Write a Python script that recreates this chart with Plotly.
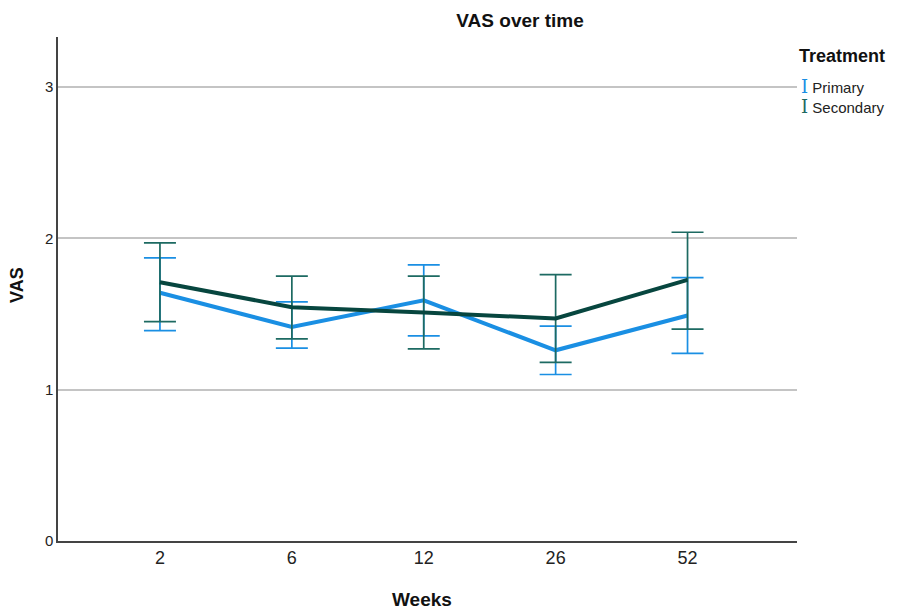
import plotly.graph_objects as go

weeks = ["2", "6", "12", "26", "52"]
primary_mean = [1.64, 1.415, 1.59, 1.26, 1.49]
primary_upper = [1.87, 1.58, 1.824, 1.42, 1.74]
primary_lower = [1.39, 1.275, 1.355, 1.10, 1.24]
secondary_mean = [1.71, 1.545, 1.51, 1.47, 1.725]
secondary_upper = [1.97, 1.75, 1.75, 1.76, 2.04]
secondary_lower = [1.45, 1.335, 1.27, 1.18, 1.40]

yticks = [0, 1, 2, 3]

c_pri = "#1a8fe3"
c_sec_line = "#07463f"
c_sec_err = "#1d6a62"

def err(mean, up, lo):
    return dict(type="data", symmetric=False,
                array=[u - m for u, m in zip(up, mean)],
                arrayminus=[m - l for m, l in zip(mean, lo)])

fig = go.Figure()
fig.add_trace(go.Scatter(
    x=list(range(len(weeks))), y=primary_mean, mode="lines", name="Primary",
    line=dict(color=c_pri, width=4),
    error_y=dict(**err(primary_mean, primary_upper, primary_lower), color=c_pri, thickness=1.7, width=16),
))
fig.add_trace(go.Scatter(
    x=list(range(len(weeks))), y=secondary_mean, mode="lines", name="Secondary",
    line=dict(color=c_sec_line, width=4),
    error_y=dict(**err(secondary_mean, secondary_upper, secondary_lower), color=c_sec_err, thickness=1.7, width=16),
))

fig.update_layout(
    width=889, height=601,
    margin=dict(l=50, r=100, t=29, b=68, autoexpand=False),
    plot_bgcolor="white", paper_bgcolor="white",
    showlegend=False,
    font=dict(family="Liberation Sans, Arial", color="#222"),
    title=dict(text="<b>VAS over time</b>", x=0.576, xanchor="center", y=0.98, yanchor="middle",
               font=dict(size=19, color="#111")),
)
fig.update_xaxes(
    tickmode="array", tickvals=list(range(len(weeks))), ticktext=weeks,
    range=[-0.773, 4.83], showgrid=False, zeroline=False, automargin=False,
    showline=True, linecolor="#444", linewidth=1.5,
    ticks="", tickfont=dict(size=18, color="#222"),
)
fig.update_yaxes(
    tickmode="array", tickvals=yticks, ticktext=[str(v) for v in yticks],
    range=[0, 3.33], showgrid=True, gridcolor="#c4c4c4", gridwidth=2, zeroline=False, automargin=False,
    showline=True, linecolor="#444", linewidth=1.5,
    ticks="", tickfont=dict(size=15, color="#222"),
)

fig.add_annotation(xref="paper", yref="paper", x=0.492, y=-0.117, xanchor="center", yanchor="middle",
                   text="<b>Weeks</b>", showarrow=False, font=dict(size=19, color="#111"))
fig.add_annotation(xref="paper", yref="paper", x=-0.0555, y=0.508, xanchor="center", yanchor="middle",
                   text="<b>VAS</b>", textangle=-90, showarrow=False, font=dict(size=18, color="#111"))

fig.add_annotation(xref="paper", yref="paper", x=1.0, y=0.962, xanchor="left", yanchor="middle",
                   xshift=0, text="<b>Treatment</b>", showarrow=False, font=dict(size=18, color="#111"))
fig.add_annotation(xref="paper", yref="paper", x=1.0, y=0.901, xanchor="left", yanchor="middle",
                   xshift=2, text="<span style='color:%s;font-family:DejaVu Serif;font-size:18px'>I</span> Primary" % c_pri,
                   showarrow=False, font=dict(size=15, color="#222"))
fig.add_annotation(xref="paper", yref="paper", x=1.0, y=0.863, xanchor="left", yanchor="middle",
                   xshift=2, text="<span style='color:%s;font-family:DejaVu Serif;font-size:18px'>I</span> Secondary" % c_sec_err,
                   showarrow=False, font=dict(size=15, color="#222"))

fig.write_html("out.html")
